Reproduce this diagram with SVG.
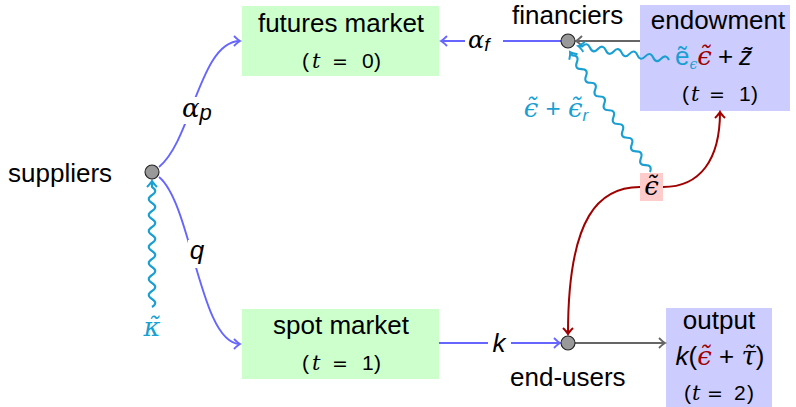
<svg xmlns="http://www.w3.org/2000/svg" width="796" height="407" viewBox="0 0 796 407">
  <style>
    .w { font-family: "Liberation Sans", Arial, sans-serif; font-size: 26px; fill: #000; }
    .t { font-family: "Liberation Sans", Arial, sans-serif; font-size: 21px; fill: #000; }
    .eq { font-family: "DejaVu Sans", sans-serif; font-size: 19px; }
    .mi { font-family: "DejaVu Serif", "Liberation Serif", serif; font-style: italic; }
    .si { font-family: "Liberation Sans", Arial, sans-serif; font-style: italic; }
    .cy { fill: #1a9fd3; }
    .rd { fill: #a00000; }
    .blue { stroke: #6666ff; stroke-width: 1.9; fill: none; }
    .gray { stroke: #666; stroke-width: 1.9; fill: none; }
    .red { stroke: #a00000; stroke-width: 2; fill: none; }
    .snake { stroke: #1a9fd3; stroke-width: 2.1; fill: none; stroke-linejoin: round; }
    .dot { fill: #999; stroke: #222; stroke-width: 1.1; }
    .green { fill: #ccffcc; }
    .lilac { fill: #ccccff; }
    .pink { fill: #ffcccc; }
  </style>
  <defs>
    <marker id="aBlue" markerUnits="userSpaceOnUse" orient="auto" overflow="visible" refX="0" refY="0" markerWidth="10" markerHeight="10">
      <path d="M-6,-5 Q-2,-1 0,0 Q-2,1 -6,5" fill="none" stroke="#6666ff" stroke-width="1.9"/>
    </marker>
    <marker id="aGray" markerUnits="userSpaceOnUse" orient="auto" overflow="visible" refX="0" refY="0" markerWidth="10" markerHeight="10">
      <path d="M-6,-5 Q-2,-1 0,0 Q-2,1 -6,5" fill="none" stroke="#666" stroke-width="1.9"/>
    </marker>
    <marker id="aRed" markerUnits="userSpaceOnUse" orient="auto" overflow="visible" refX="0" refY="0" markerWidth="10" markerHeight="10">
      <path d="M-6,-5 Q-2,-1 0,0 Q-2,1 -6,5" fill="none" stroke="#a00000" stroke-width="2"/>
    </marker>
    <marker id="aCyan" markerUnits="userSpaceOnUse" orient="auto" overflow="visible" refX="0" refY="0" markerWidth="10" markerHeight="10">
      <path d="M-6,-5 Q-2,-1 0,0 Q-2,1 -6,5" fill="none" stroke="#1a9fd3" stroke-width="2"/>
    </marker>
  </defs>

  <!-- boxes -->
  <g id="futures">
    <rect class="green" x="242" y="6" width="197" height="70"/>
    <text class="w" x="341" y="32" text-anchor="middle">futures market</text>
    <text class="t" y="68"><tspan x="302">(</tspan><tspan class="mi" x="312">t</tspan><tspan class="eq" x="332">=</tspan><tspan x="362">0</tspan><tspan x="374">)</tspan></text>
  </g>
  <g id="spot">
    <rect class="green" x="242" y="309" width="197" height="70"/>
    <text class="w" x="341" y="334" text-anchor="middle">spot market</text>
    <text class="t" y="370"><tspan x="302">(</tspan><tspan class="mi" x="312">t</tspan><tspan class="eq" x="332">=</tspan><tspan x="362">1</tspan><tspan x="374">)</tspan></text>
  </g>
  <g id="endowment">
    <rect class="lilac" x="640" y="5" width="150" height="106"/>
    <text class="w" x="718" y="29" text-anchor="middle">endowment</text>
    <text class="w" y="65"><tspan class="cy" x="675">ẽ</tspan><tspan class="cy mi" font-size="14" dy="4">ϵ</tspan><tspan class="rd mi" dy="-4">ϵ̃</tspan><tspan dx="6">+</tspan><tspan class="si" dx="6">z̃</tspan></text>
    <text class="t" y="101"><tspan x="682">(</tspan><tspan class="mi" x="691">t</tspan><tspan class="eq" x="709">=</tspan><tspan x="739">1</tspan><tspan x="751">)</tspan></text>
  </g>
  <g id="output">
    <rect class="lilac" x="666" y="308" width="106" height="99"/>
    <text class="w" x="719" y="329" text-anchor="middle">output</text>
    <text class="w" x="720" y="365" text-anchor="middle" font-size="29"><tspan class="si">k</tspan>(<tspan class="rd mi">ϵ̃</tspan> + <tspan class="mi">τ̃</tspan>)</text>
    <text class="t" y="400"><tspan x="684">(</tspan><tspan class="mi" x="692">t</tspan><tspan class="eq" x="707">=</tspan><tspan x="734">2</tspan><tspan x="747">)</tspan></text>
  </g>
  <g id="shock">
    <rect class="pink" x="640" y="173" width="23" height="28"/>
    <text class="w mi" x="651.5" y="195" text-anchor="middle" font-size="24">ϵ̃</text>
  </g>

  <!-- connectors -->
  <g id="connectors">
    <path class="blue" d="M159,167 C192,140 200,41 240,41" marker-end="url(#aBlue)"/>
    <path class="blue" d="M159,177 C192,204 200,344 240,344" marker-end="url(#aBlue)"/>
    <path class="blue" d="M561,41 L441,41" marker-end="url(#aBlue)"/>
    <path class="blue" d="M439,343 L560,343" marker-end="url(#aBlue)"/>
    <path class="gray" d="M640,41 L576,41" marker-end="url(#aGray)"/>
    <path class="gray" d="M575,343 L665,343" marker-end="url(#aGray)"/>
    <path class="red" d="M640,187 C600,187 568,215 568,334" marker-end="url(#aRed)"/>
    <path class="red" d="M663,187 C700,187 720,160 720,112" marker-end="url(#aRed)"/>
    <!-- wavy signal lines -->
    <path class="snake" d="M152,307 q6.5,-4 0,-8 t0,-8 t0,-8 t0,-8 t0,-8 t0,-8 t0,-8 t0,-8 t0,-8 t0,-8 t0,-8 t0,-8 t0,-8 t0,-8 t0,-8 l0,-6" marker-end="url(#aCyan)"/>
    <path class="snake" d="M650,172 q2.70,-6.76 -4.57,-6.86 t-4.57,-6.86 t-4.57,-6.86 t-4.57,-6.86 t-4.57,-6.86 t-4.57,-6.86 t-4.57,-6.86 t-4.57,-6.86 t-4.57,-6.86 t-4.57,-6.86 t-4.57,-6.86 t-4.57,-6.86 t-4.57,-6.86 t-4.57,-6.86 t-4.57,-6.86 t-4.57,-6.86 t-4.57,-6.86 l-2.22,-3.33" marker-end="url(#aCyan)"/>
    <path class="snake" d="M669,60 q-3.04,-6.54 -7.9,-1.22 t-7.9,-1.22 t-7.9,-1.22 t-7.9,-1.22 t-7.9,-1.22 t-7.9,-1.22 t-7.9,-1.22 t-7.9,-1.22 t-7.9,-1.22 t-7.9,-1.22 t-7.9,-1.22 l-3.95,-0.61" marker-end="url(#aCyan)"/>
    <!-- edge labels -->
    <rect x="182" y="97" width="33" height="27" fill="#fff"/>
    <text class="w" y="117" font-size="26"><tspan class="mi" x="182">α</tspan><tspan class="si" font-size="22" dy="3">p</tspan></text>
    <rect x="188" y="240" width="18" height="28" fill="#fff"/>
    <text class="w si" x="197" y="259" text-anchor="middle">q</text>
    <rect x="465" y="30" width="38" height="24" fill="#fff"/>
    <text class="w" y="48"><tspan class="mi" x="468" font-size="24">α</tspan><tspan class="si" font-size="19" dy="3">f</tspan></text>
    <rect x="488" y="332" width="23" height="24" fill="#fff"/>
    <text class="w si" x="499" y="352" text-anchor="middle">k</text>
    <text class="w cy" x="556" y="117" text-anchor="middle" font-size="24"><tspan class="mi">ϵ̃</tspan> + <tspan class="mi">ϵ̃</tspan><tspan class="si" font-size="17" dy="4">r</tspan></text>
    <text class="w cy mi" x="152" y="336" text-anchor="middle" font-size="22">κ̃</text>
  </g>

  <!-- agents -->
  <g id="suppliers">
    <circle class="dot" cx="152" cy="172" r="7"/>
    <text class="w" x="8" y="182">suppliers</text>
  </g>
  <g id="financiers">
    <circle class="dot" cx="568" cy="41" r="7"/>
    <text class="w" x="512" y="24">financiers</text>
  </g>
  <g id="endusers">
    <circle class="dot" cx="568" cy="343" r="7"/>
    <text class="w" x="510" y="386">end-users</text>
  </g>
</svg>
